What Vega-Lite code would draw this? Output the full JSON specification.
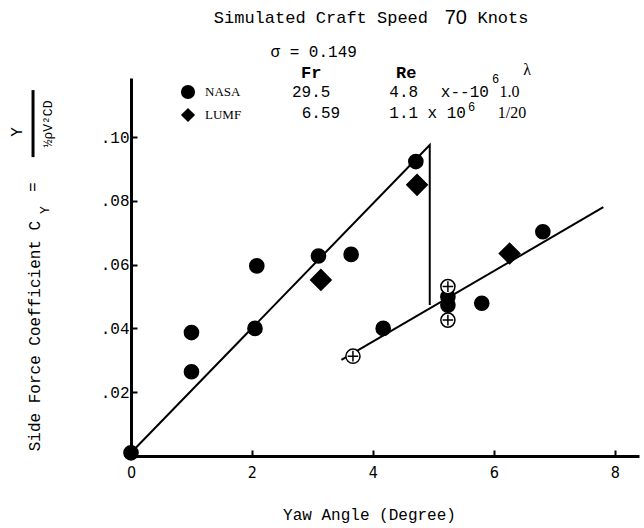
{
  "$schema": "https://vega.github.io/schema/vega-lite/v6.json",
  "width": 508,
  "height": 378,
  "autosize": {"type": "none"},
  "padding": {"left": 131, "top": 78, "right": 5, "bottom": 72},
  "background": "white",
  "config": {
    "view": {"stroke": null},
    "axis": {"domainColor": "black", "domainWidth": 3, "tickColor": "black", "tickWidth": 2, "labelColor": "black", "titleColor": "black", "grid": false},
    "legend": {"orient": "none", "legendX": 49, "legendY": 6, "labelFont": "Liberation Serif", "labelFontSize": 13, "labelColor": "black", "labelOffset": 9, "rowPadding": 3, "symbolSize": 200, "symbolStrokeColor": "black", "symbolStrokeWidth": 1}
  },
  "datasets": {
    "points": [
      {"yaw": 0.0, "cy": 0.001, "source": "NASA"},
      {"yaw": 1.0, "cy": 0.0387, "source": "NASA"},
      {"yaw": 1.0, "cy": 0.0264, "source": "NASA"},
      {"yaw": 2.08, "cy": 0.0596, "source": "NASA"},
      {"yaw": 2.05, "cy": 0.0400, "source": "NASA"},
      {"yaw": 3.10, "cy": 0.0627, "source": "NASA"},
      {"yaw": 3.64, "cy": 0.0632, "source": "NASA"},
      {"yaw": 4.17, "cy": 0.0400, "source": "NASA"},
      {"yaw": 4.71, "cy": 0.0923, "source": "NASA"},
      {"yaw": 5.24, "cy": 0.0499, "source": "NASA"},
      {"yaw": 5.24, "cy": 0.0473, "source": "NASA"},
      {"yaw": 5.80, "cy": 0.0479, "source": "NASA"},
      {"yaw": 6.81, "cy": 0.0703, "source": "NASA"},
      {"yaw": 3.67, "cy": 0.0313, "source": "NASA open"},
      {"yaw": 5.24, "cy": 0.0531, "source": "NASA open"},
      {"yaw": 5.24, "cy": 0.0426, "source": "NASA open"},
      {"yaw": 3.14, "cy": 0.0552, "source": "LUMF"},
      {"yaw": 4.73, "cy": 0.0850, "source": "LUMF"},
      {"yaw": 6.26, "cy": 0.0635, "source": "LUMF"}
    ],
    "fits": [
      {"seg": "A", "yaw": 0.0, "cy": 0.001, "o": 1},
      {"seg": "A", "yaw": 4.94, "cy": 0.0975, "o": 2},
      {"seg": "A", "yaw": 4.94, "cy": 0.0473, "o": 3},
      {"seg": "B", "yaw": 3.48, "cy": 0.0301, "o": 1},
      {"seg": "B", "yaw": 7.81, "cy": 0.0780, "o": 2}
    ],
    "title": [
      {"t": "Simulated Craft Speed", "x": 3.14, "y": 0.1373},
      {"t": "Knots", "x": 6.15, "y": 0.1373}
    ],
    "mono": [
      {"t": "σ = 0.149", "x": 3.02, "y": 0.1266},
      {"t": "29.5", "x": 2.98, "y": 0.1141},
      {"t": "4.8", "x": 4.51, "y": 0.1141},
      {"t": "x--10", "x": 5.52, "y": 0.1141},
      {"t": "6.59", "x": 3.14, "y": 0.1075},
      {"t": "1.1", "x": 4.51, "y": 0.1075},
      {"t": "x 10", "x": 5.22, "y": 0.1075}
    ],
    "sup": [
      {"t": "6", "x": 6.03, "y": 0.1182},
      {"t": "6", "x": 5.63, "y": 0.1094}
    ],
    "heads": [
      {"t": "Fr", "x": 2.98, "y": 0.1201},
      {"t": "Re", "x": 4.55, "y": 0.1201}
    ],
    "serif": [
      {"t": "λ", "x": 6.55, "y": 0.1210},
      {"t": "1.0", "x": 6.26, "y": 0.1141},
      {"t": "1/20", "x": 6.30, "y": 0.1075}
    ],
    "sans": [
      {"t": "70", "x": 5.37, "y": 0.1373}
    ],
    "ytitle": [
      {"t": "Side Force Coefficient C", "x": -1.587, "y": 0.0376},
      {"t": "=", "x": -1.62, "y": 0.0843},
      {"t": "Y", "x": -1.884, "y": 0.1016}
    ],
    "ytitleSmall": [
      {"t": "Y", "x": -1.42, "y": 0.0771},
      {"t": "½ρV²CD", "x": -1.372, "y": 0.1041}
    ],
    "bar": [
      {"x": -1.62, "y": 0.0937, "y2": 0.1147}
    ]
  },
  "layer": [
    {
      "data": {"name": "fits"},
      "mark": {"type": "line", "color": "black", "strokeWidth": 2},
      "encoding": {
        "x": {"field": "yaw", "type": "quantitative", "scale": {"domain": [0, 8.4], "nice": false, "zero": false},
          "axis": {"values": [0, 2, 4, 6, 8], "format": "d", "tickSize": -6, "labelFont": "Liberation Sans Narrow, DejaVu Sans Condensed, sans-serif", "labelFontSize": 16, "labelPadding": 14, "labelFlush": false,
            "title": "Yaw Angle (Degree)", "titleFont": "Liberation Mono", "titleFontSize": 16, "titleFontWeight": "normal", "titleX": 238, "titleY": 63, "titleBaseline": "alphabetic", "titleAnchor": null}},
        "y": {"field": "cy", "type": "quantitative", "scale": {"domain": [0, 0.1185], "nice": false, "zero": false},
          "axis": {"values": [0.02, 0.04, 0.06, 0.08, 0.1], "labelExpr": "substring(format(datum.value, '.2f'), 1)", "tickSize": -6, "labelFont": "Liberation Mono", "labelFontSize": 16, "labelPadding": 8, "title": null}},
        "detail": {"field": "seg"},
        "order": {"field": "o", "type": "quantitative"}
      }
    },
    {
      "data": {"name": "points"},
      "mark": {"type": "point", "stroke": "black", "strokeWidth": 1.5, "opacity": 1, "fillOpacity": 1},
      "encoding": {
        "x": {"field": "yaw", "type": "quantitative"},
        "y": {"field": "cy", "type": "quantitative"},
        "shape": {"field": "source", "type": "nominal", "scale": {"domain": ["NASA", "NASA open", "LUMF"], "range": ["circle", "circle", "diamond"]}, "legend": {"values": ["NASA", "LUMF"], "title": null}},
        "fill": {"field": "source", "type": "nominal", "scale": {"domain": ["NASA", "NASA open", "LUMF"], "range": ["black", "white", "black"]}, "legend": {"values": ["NASA", "LUMF"], "title": null}},
        "size": {"condition": {"test": "datum.source === 'LUMF'", "value": 420}, "value": 200}
      }
    },
    {
      "data": {"name": "points"},
      "transform": [{"filter": "datum.source === 'NASA open'"}],
      "mark": {"type": "point", "shape": "M-0.75,0H0.75M0,-0.75V0.75", "stroke": "black", "strokeWidth": 1.5, "filled": false, "size": 200, "opacity": 1},
      "encoding": {
        "x": {"field": "yaw", "type": "quantitative"},
        "y": {"field": "cy", "type": "quantitative"}
      }
    },
    {
      "data": {"name": "title"},
      "mark": {"type": "text", "font": "Liberation Mono", "fontSize": 17, "color": "black", "align": "center", "baseline": "middle"},
      "encoding": {"x": {"field": "x", "type": "quantitative"}, "y": {"field": "y", "type": "quantitative"}, "text": {"field": "t"}}
    },
    {
      "data": {"name": "mono"},
      "mark": {"type": "text", "font": "Liberation Mono", "fontSize": 16, "color": "black", "align": "center", "baseline": "middle"},
      "encoding": {"x": {"field": "x", "type": "quantitative"}, "y": {"field": "y", "type": "quantitative"}, "text": {"field": "t"}}
    },
    {
      "data": {"name": "sup"},
      "mark": {"type": "text", "font": "Liberation Mono", "fontSize": 12, "color": "black", "align": "center", "baseline": "middle"},
      "encoding": {"x": {"field": "x", "type": "quantitative"}, "y": {"field": "y", "type": "quantitative"}, "text": {"field": "t"}}
    },
    {
      "data": {"name": "heads"},
      "mark": {"type": "text", "font": "Liberation Mono", "fontSize": 17, "fontWeight": "bold", "color": "black", "align": "center", "baseline": "middle"},
      "encoding": {"x": {"field": "x", "type": "quantitative"}, "y": {"field": "y", "type": "quantitative"}, "text": {"field": "t"}}
    },
    {
      "data": {"name": "serif"},
      "mark": {"type": "text", "font": "Liberation Serif", "fontSize": 16, "color": "black", "align": "center", "baseline": "middle"},
      "encoding": {"x": {"field": "x", "type": "quantitative"}, "y": {"field": "y", "type": "quantitative"}, "text": {"field": "t"}}
    },
    {
      "data": {"name": "sans"},
      "mark": {"type": "text", "font": "Liberation Sans", "fontSize": 20, "color": "black", "align": "center", "baseline": "middle"},
      "encoding": {"x": {"field": "x", "type": "quantitative"}, "y": {"field": "y", "type": "quantitative"}, "text": {"field": "t"}}
    },
    {
      "data": {"name": "ytitle"},
      "mark": {"type": "text", "font": "Liberation Mono", "fontSize": 16, "color": "black", "align": "center", "baseline": "middle", "angle": 270},
      "encoding": {"x": {"field": "x", "type": "quantitative"}, "y": {"field": "y", "type": "quantitative"}, "text": {"field": "t"}}
    },
    {
      "data": {"name": "ytitleSmall"},
      "mark": {"type": "text", "font": "Liberation Mono", "fontSize": 13, "color": "black", "align": "center", "baseline": "middle", "angle": 270},
      "encoding": {"x": {"field": "x", "type": "quantitative"}, "y": {"field": "y", "type": "quantitative"}, "text": {"field": "t"}}
    },
    {
      "data": {"name": "bar"},
      "mark": {"type": "rule", "color": "black", "strokeWidth": 3},
      "encoding": {"x": {"field": "x", "type": "quantitative"}, "y": {"field": "y", "type": "quantitative"}, "y2": {"field": "y2"}}
    }
  ]
}
